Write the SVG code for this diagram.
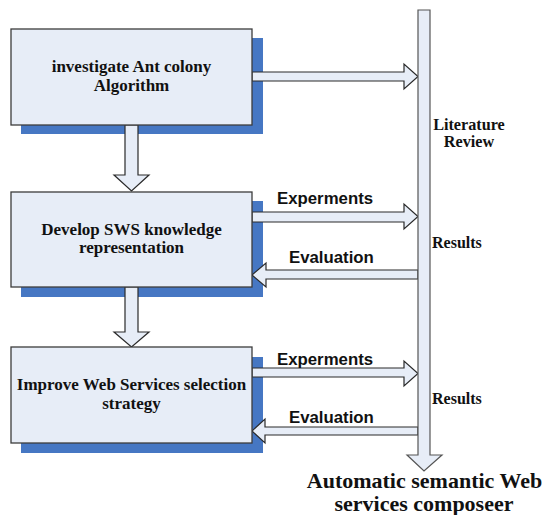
<svg xmlns="http://www.w3.org/2000/svg" width="544" height="515" viewBox="0 0 544 515">
<style>
.shadow{fill:#4677c3;}
.box{fill:#e7edf7;stroke:#3c3c3c;stroke-width:1.3;}
.arr{fill:#e7edf7;stroke:#2a2a2a;stroke-width:1.2;stroke-linejoin:miter;}
.bt{font-family:"Liberation Serif","Times New Roman",serif;font-weight:bold;font-size:17px;fill:#111;text-anchor:middle;}
.lt{font-family:"Liberation Serif","Times New Roman",serif;font-weight:bold;font-size:16.2px;fill:#111;text-anchor:middle;}
.st{font-family:"Liberation Serif","Times New Roman",serif;font-weight:bold;font-size:16px;fill:#111;}
.lb{font-family:"Liberation Sans",Arial,sans-serif;font-weight:bold;font-size:16.8px;fill:#111;}
.big{font-family:"Liberation Serif","Times New Roman",serif;font-weight:bold;font-size:22px;fill:#111;text-anchor:middle;}
</style>
<rect width="544" height="515" fill="#ffffff"/>
<g id="shadows">
<rect class="shadow" x="21" y="38" width="242" height="96"/>
<rect class="shadow" x="21" y="201" width="242" height="96"/>
<rect class="shadow" x="21" y="357" width="242" height="96"/>
</g>
<g id="connectors">
<polygon class="arr" points="252,72 404,72 404,64 418,76.5 404,89 404,81 252,81"/>
<polygon class="arr" points="252,212 404,212 404,204 418,216.5 404,229 404,222 252,222"/>
<polygon class="arr" points="418,270 266,270 266,263 252,275 266,287 266,279 418,279"/>
<polygon class="arr" points="252,368 404,368 404,361 418,373.5 404,386 404,377 252,377"/>
<polygon class="arr" points="418,427 265,427 265,419 252,431 265,443 265,435 418,435"/>
<polygon class="arr" points="125,125 138,125 138,175 149,175 131.5,191 114,175 125,175"/>
<polygon class="arr" points="125,287 138,287 138,332 149,332 131.5,347 114,332 125,332"/>
</g>
<g id="literature-bar">
<polygon class="arr" style="stroke:#555" points="418,10 430,10 430,455 442,455 424,471 407,455 418,455"/>
<text class="lt" x="469" y="130">Literature</text>
<text class="lt" x="469" y="147">Review</text>
<text class="st" x="432" y="248">Results</text>
<text class="st" x="432" y="404">Results</text>
</g>
<g id="box1">
<rect class="box" x="11" y="29" width="241" height="96"/>
<text class="bt" x="131.5" y="72">investigate Ant colony</text>
<text class="bt" x="131.5" y="91">Algorithm</text>
</g>
<g id="box2">
<rect class="box" x="11" y="192" width="241" height="95"/>
<text class="bt" x="131.5" y="235">Develop SWS knowledge</text>
<text class="bt" x="131.5" y="253">representation</text>
</g>
<g id="box3">
<rect class="box" x="11" y="347" width="241" height="96"/>
<text class="bt" x="131.5" y="390">Improve Web Services selection</text>
<text class="bt" x="131.5" y="409">strategy</text>
</g>
<g id="labels">
<text class="lb" x="277" y="204">Experments</text>
<text class="lb" x="289" y="263">Evaluation</text>
<text class="lb" x="277" y="365">Experments</text>
<text class="lb" x="289" y="423">Evaluation</text>
</g>
<g id="goal">
<text class="big" x="424.5" y="488">Automatic semantic Web</text>
<text class="big" x="424" y="511">services composeer</text>
</g>
</svg>
